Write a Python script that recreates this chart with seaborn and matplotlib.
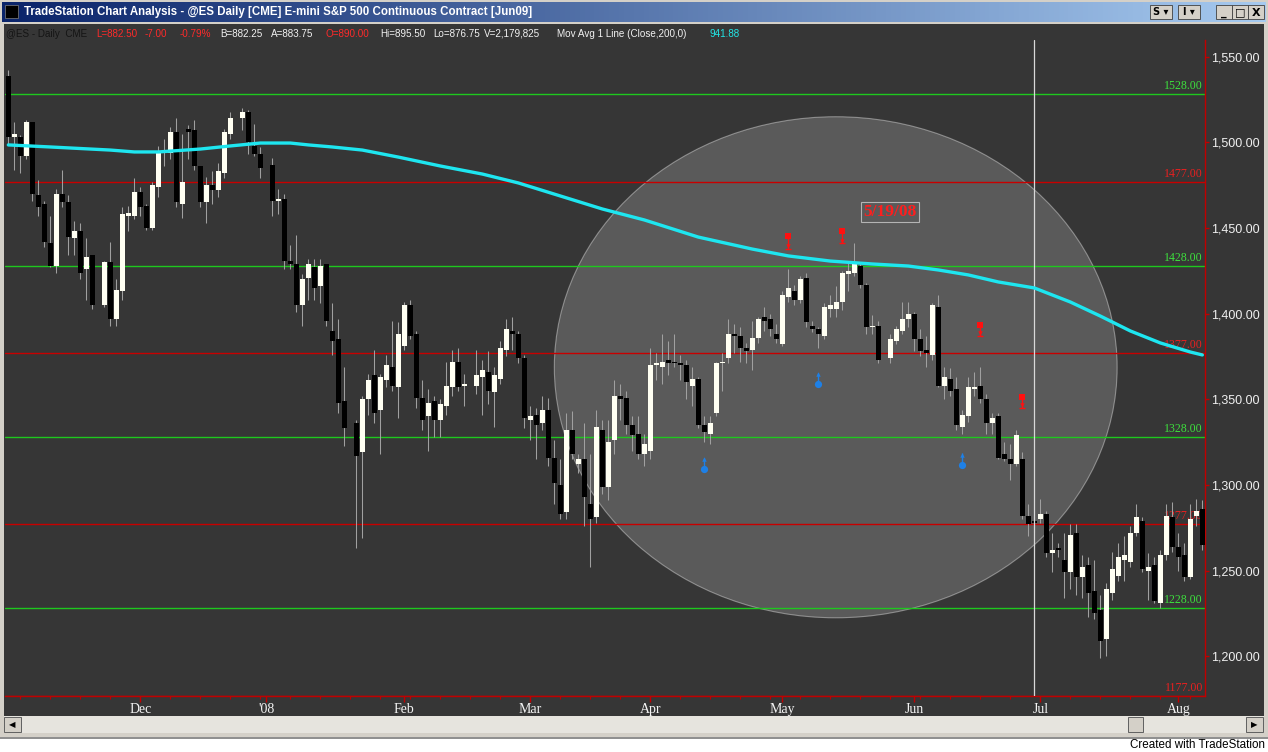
import numpy as np
import pandas as pd
import matplotlib
matplotlib.use("Agg")
import matplotlib.pyplot as plt
import seaborn as sns
from matplotlib.patches import Rectangle, Ellipse
from matplotlib.colors import LinearSegmentedColormap

sns.set_style("dark")
plt.rcParams['font.family'] = ['Liberation Sans', 'DejaVu Sans']

# ---------------- data ----------------
N = None
opens = [1539, 1503, 1503, 1492, 1512, 1469, 1464, 1441, 1428, 1470,
         1465, 1444, 1448, 1426, 1434, N, 1405, 1430, 1397, 1413,
         1457, 1457, 1471, 1463, 1450, 1474, 1494, 1494, 1506, 1464,
         1508, 1507, 1486, 1465, 1475, 1472, 1482, 1505, N, 1514,
         1518, 1498, 1493, N, 1487, 1466, 1467, 1431, 1429, 1405,
         1421, 1427, 1416, 1429, 1390, 1385, 1349, N, 1336, 1319,
         1350, 1364, 1344, 1361, 1369, 1357, 1381, 1405, 1388, 1351,
         1340, 1349, 1338, 1346, 1357, 1372, 1358, N, 1358, 1363,
         1366, 1354, 1362, 1379, 1390, 1388, 1374, 1338, 1341, 1336,
         1344, 1316, 1300, 1284, 1332, 1312, 1315, 1289, 1281, 1332,
         1299, 1326, 1352, 1351, 1335, 1330, 1318, 1320, 1370, 1369,
         1373, 1372, 1371, 1370, 1358, 1362, 1335, 1330, 1342, 1371,
         1374, 1388, 1387, 1380, 1379, 1386, 1398, 1397, 1388, 1382,
         1410, 1413, 1408, 1421, 1393, 1391, 1387, 1403, 1403, 1407,
         1423, 1424, 1428, 1417, 1392, 1393, N, 1374, 1384, 1390,
         1397, 1400, 1385, 1378.5, 1376, 1404, 1358, 1362, 1356, 1334,
         1340, 1356, 1358, 1350, 1336, 1340, 1318, 1315, 1312, 1315,
         1282, 1279, 1280, 1283, 1260, 1263, 1256, 1249, 1272, 1246,
         1253, 1238, 1227, 1210, 1237, 1247, 1256, 1255, 1272, 1279,
         1250, 1253, 1231, 1259, 1281, 1264, 1259, 1246, 1282, 1286]
highs = [1542, 1512, 1504, 1513, 1512, 1478, 1466, 1457, 1473, 1484,
         1469, 1454, 1453, 1444, 1434, N, 1431, 1442, 1420, 1462,
         1463, 1479, 1474, 1464, 1477, 1498, 1502, 1509, 1514, 1505,
         1510, 1513, 1486, 1480, 1483, 1488, 1508, 1518, N, 1520,
         1519, 1511, 1497, N, 1491, 1473, 1470, 1440, 1446, 1423,
         1432, 1432, 1432, 1429, 1406, 1397, 1369, N, 1338, 1352,
         1365, 1379, 1365, 1376, 1396, 1395, 1407, 1408, 1390, 1361,
         1356, 1352, 1350, 1372, 1379, 1380, 1365, N, 1379, 1373,
         1378, 1369, 1384, 1397, 1398, 1390, 1376, 1346, 1345, 1352,
         1351, 1326, 1315, 1342, 1343, 1318, 1336, 1318, 1344, 1338,
         1338, 1361, 1359, 1355, 1340, 1340, 1330, 1380, 1377, 1388,
         1384, 1388, 1376, 1373, 1369, 1363, 1340, 1340, 1372, 1377,
         1397, 1394, 1392, 1383, 1396, 1398, 1404, 1400, 1394, 1413,
         1426, 1417, 1422, 1424, 1396, 1392, 1406, 1411, 1416, 1425,
         1430, 1441, 1430, 1418, 1399, 1396, N, 1388, 1393, 1407,
         1407, 1401, 1391, 1387, 1406, 1411, 1369, 1368, 1363, 1344,
         1363, 1366, 1369, 1353, 1342, 1342, 1325, 1324, 1332, 1319,
         1289, 1282, 1292, 1285, 1272, 1266, 1272, 1277, 1277, 1259,
         1258, 1256, 1236, 1243, 1261, 1266, 1270, 1276, 1289, 1281,
         1260, 1258, 1262, 1289, 1290, 1272, 1266, 1289, 1292, 1291]
lows = [1499, 1484, 1482, 1490, 1466, 1457, 1439, 1427, 1424, 1462,
        1434, 1434, 1420, 1408, 1403, N, 1404, 1393, 1393, 1408,
        1448, 1455, 1457, 1449, 1449, 1468, 1486, 1490, 1462, 1456,
        1490, 1484, 1462, 1453, 1464, 1468, 1479, 1502, N, 1507,
        1493, 1492, 1479, N, 1457, 1458, 1426, 1426, 1401, 1393,
        1408, 1408, 1406, 1393, 1376, 1342, 1323, N, 1263, 1269,
        1341, 1336, 1318, 1357, 1355, 1339, 1379, 1385, 1345, 1332,
        1320, 1328, 1328, 1341, 1352, 1355, 1346, N, 1353, 1341,
        1347, 1334, 1359, 1375, 1379, 1371, 1333, 1326, 1315, 1332,
        1311, 1289, 1280, 1280, 1315, 1307, 1276, 1252, 1278, 1295,
        1291, 1318, 1338, 1330, 1320, 1315, 1311, 1315, 1361, 1359,
        1364, 1369, 1361, 1350, 1346, 1333, 1325, 1324, 1340, 1355,
        1371, 1377, 1372, 1371, 1367, 1383, 1390, 1387, 1383, 1381,
        1407, 1405, 1406, 1392, 1389, 1380, 1385, 1398, 1398, 1402,
        1413, 1422, 1415, 1388, 1388, 1371, N, 1371, 1382, 1388,
        1392, 1378, 1375, 1369, 1373, 1357, 1350, 1352, 1332, 1330,
        1337, 1352, 1348, 1330, 1330, 1315, 1314, 1303, 1311, 1280,
        1270, 1272, 1278, 1258, 1249, 1258, 1234, 1239, 1236, 1234,
        1223, 1222, 1199, 1200, 1233, 1244, 1244, 1252, 1270, 1249,
        1233, 1231, 1228, 1256, 1261, 1250, 1244, 1245, 1276, 1262]
closes = [1503, 1505, 1492, 1512, 1470, 1462, 1442, 1428, 1470, 1465,
          1445, 1448, 1424, 1433, 1405, N, 1430, 1397, 1414, 1458,
          1459, 1471, 1462, 1450, 1475, 1494, 1495, 1506, 1465, 1477,
          1506, 1486, 1465, 1475, 1472, 1483, 1506, 1514, N, 1518,
          1500, 1493, 1485, N, 1466, 1467, 1431, 1429, 1405, 1420,
          1429, 1415, 1428, 1396, 1384, 1348, 1333, N, 1317, 1350,
          1361, 1342, 1363, 1370, 1358, 1388, 1405, 1387, 1351, 1338,
          1348, 1338, 1347, 1358, 1372, 1357, 1359, N, 1364, 1367,
          1355, 1364, 1380, 1391, 1388, 1374, 1339, 1340, 1335, 1344,
          1316, 1301, 1283, 1332, 1318, 1315, 1293, 1280, 1334, 1299,
          1325, 1352, 1350, 1335, 1329, 1318, 1324, 1370, 1371, 1372,
          1371, 1371, 1370, 1360, 1362, 1335, 1331, 1336, 1371, 1372,
          1388, 1387, 1380, 1378, 1386, 1397, 1396, 1391, 1385, 1411,
          1415, 1408, 1420, 1395, 1391, 1388, 1404, 1405, 1407, 1424,
          1425, 1429, 1417, 1392, 1393, 1373, N, 1385, 1391, 1397,
          1400, 1385, 1378, 1377, 1405, 1358, 1363, 1355, 1335, 1341,
          1357, 1357, 1350, 1336, 1339, 1316, 1315, 1312, 1329, 1282,
          1277, 1278, 1283, 1260, 1262, 1262, 1249, 1271, 1246, 1252,
          1237, 1225, 1209, 1239, 1251, 1258, 1259, 1272, 1281, 1251,
          1252, 1232, 1259, 1282, 1264, 1258, 1246, 1280, 1285, 1265]

ma_idx = [0, 7, 17, 21, 25, 32, 37, 42, 47, 50, 54, 59, 65, 72, 79, 85, 92,
          99, 106, 115, 124, 130, 137, 144, 150, 155, 160, 165, 171, 177,
          182, 187, 192, 197, 199]
ma_vals = [1498.5, 1497.3, 1495.5, 1494.4, 1494.4, 1496.1, 1497.9, 1499.6,
           1499.6, 1498.5, 1497.3, 1495.5, 1491.4, 1486.2, 1481.5, 1476.3,
           1468.7, 1461.1, 1454.7, 1444.7, 1437.7, 1433.7, 1430.7, 1429.0,
           1427.8, 1425.5, 1422.6, 1418.5, 1415.0, 1406.8, 1398.6, 1389.9,
           1382.9, 1377.6, 1375.9]

green_levels = [1528, 1428, 1328, 1228]
red_levels = [1477, 1377, 1277, 1177]

month_labels = ["Dec", "'08", "Feb", "Mar", "Apr", "May", "Jun", "Jul", "Aug"]
month_idx = [22, 43, 66, 87, 107, 129, 151, 172, 195]
price_ticks = [1200, 1250, 1300, 1350, 1400, 1450, 1500, 1550]

sell_idx = [130, 139, 162, 169]
sell_top = [1445.5, 1448.5, 1393.5, 1351.5]
sell_bottom = [1438, 1441, 1387, 1345]
buy_idx = [116, 135, 159]
buy_base = [1309.5, 1359, 1311.5]
buy_top = [1316, 1365.5, 1318.5]

marked_bar = 171
note_idx, note_price, note_text = 146.9, 1459.3, "5/19/08"
circle_center = (137.9, 1368.7)
circle_size = (93.8, 292.5)

title = "TradeStation Chart Analysis - @ES Daily [CME] E-mini S&P 500 Continuous Contract [Jun09]"
RED_T, WHITE_T, CYAN_T, DARK_T = '#ff2a2a', '#f2f2f2', '#22e6e6', '#141414'
info_parts = [("@ES - Daily  CME", 6, DARK_T), ("L=882.50", 96, RED_T),
              ("-7.00", 145, RED_T), ("-0.79%", 180, RED_T),
              ("B=882.25", 220, WHITE_T), ("A=883.75", 271, WHITE_T),
              ("O=890.00", 326, RED_T), ("Hi=895.50", 380, WHITE_T),
              ("Lo=876.75", 433, WHITE_T), ("V=2,179,825", 484, WHITE_T),
              ("Mov Avg 1 Line (Close,200,0)", 557, WHITE_T),
              ("941.88", 710, CYAN_T)]

# ---------------- figure ----------------
W, H = 1268, 752
fig = plt.figure(figsize=(W / 100, H / 100), dpi=100)
fig.patch.set_facecolor('white')


def rect(x0, y0, x1, y1, z=-5, **kw):
    fig.patches.append(Rectangle((x0 / W, 1 - y1 / H), (x1 - x0) / W, (y1 - y0) / H,
                                 transform=fig.transFigure, figure=fig, zorder=z, **kw))


def ftext(x, y, s, z=6, **kw):
    fig.text(x / W, 1 - y / H, s, zorder=z, **kw)


BG = '#363636'
# window frame (behind everything)
rect(0, 0, W, 739, facecolor='#d4d0c8', edgecolor='none', z=-10)
rect(0, 737, W, 739, facecolor='#909090', edgecolor='none', z=-9)
rect(4, 24, 1264, 716, facecolor=BG, edgecolor='none', z=-8)

# title bar gradient
ax_t = fig.add_axes([2 / W, 1 - 22 / H, 1264 / W, 20 / H])
cmap = LinearSegmentedColormap.from_list('tb', ['#0a246a', '#a6caf0'])
ax_t.imshow(np.linspace(0, 1, 256)[None, :], aspect='auto', cmap=cmap, extent=[0, 1, 0, 1])
ax_t.set_axis_off()
rect(5, 5, 18, 18, z=5, facecolor='black', edgecolor='#808080', lw=0.5)
ftext(24, 12, title, color='white', fontsize=8.3, fontweight='bold', va='center', ha='left')
for (x0, x1, lab) in [(1150, 1172, "S ▾"), (1178, 1200, "I ▾")]:
    rect(x0, 5, x1, 19, z=5, facecolor='#d4d0c8', edgecolor='#404040', lw=0.6)
    ftext((x0 + x1) / 2, 12, lab, color='black', fontsize=7, fontweight='bold', ha='center', va='center',
          family=['DejaVu Sans'])
for (x0, x1, lab) in [(1216, 1232, "_"), (1232, 1248, "□"), (1248, 1264, "X")]:
    rect(x0, 5, x1, 19, z=5, facecolor='#d4d0c8', edgecolor='#404040', lw=0.6)
    ftext((x0 + x1) / 2, 12.5, lab, color='black', fontsize=8, fontweight='bold', ha='center', va='center',
          family=['DejaVu Sans'])

# info line
for s, x, c in info_parts:
    ftext(x, 37, s, color=c, fontsize=7.1, ha='left', va='baseline')

# scrollbar
rect(4, 716, 1264, 733, z=-7, facecolor='#e6e4de', edgecolor='none')
for (x0, x1, glyph) in [(4, 21, "◀"), (1246, 1263, "▶")]:
    rect(x0, 717, x1, 732, z=2, facecolor='#d4d0c8', edgecolor='#606060', lw=0.7)
    ftext((x0 + x1) / 2, 724.5, glyph, color='black', fontsize=6, ha='center', va='center',
          family=['DejaVu Sans'])
rect(1128, 717, 1143, 732, z=2, facecolor='#d4d0c8', edgecolor='#606060', lw=0.7)
ftext(1265, 745, "Created with TradeStation", color='black', fontsize=8.4, ha='right', va='center')

# ---------------- main chart axes ----------------
Y1550, PXPT = 56.7, 1.713
X0, PXBAR = 8.33, 6.0


def price_at(y):
    return 1550 - (y - Y1550) / PXPT


def idx_at(x):
    return (x - X0) / PXBAR


ax = fig.add_axes([5 / W, 1 - 696 / H, 1200 / W, 656 / H])
ax.set_facecolor(BG)
ax.patch.set_alpha(0.0)
ax.set_xlim(idx_at(5), idx_at(1205))
ax.set_ylim(price_at(696), price_at(40))
ax.grid(False)

# highlight ellipse
ax.add_patch(Ellipse(circle_center, circle_size[0], circle_size[1],
                     facecolor=(1, 1, 1, 0.18), edgecolor=(1, 1, 1, 0.38), lw=0.8, zorder=1))

# level lines & labels
for lv in green_levels:
    ax.axhline(lv, color='#1ec81e', lw=1.0, zorder=2)
    ax.text(idx_at(1203), lv + 1.2, f"{lv:.2f}", color='#3de03d', fontsize=8.6,
            family='Liberation Serif', ha='right', va='bottom', zorder=2.5)
for lv in red_levels:
    ax.axhline(lv, color='#c80000', lw=1.0, zorder=2)
    ax.text(idx_at(1203), lv + 1.2, f"{lv:.2f}", color='#e82020', fontsize=8.6,
            family='Liberation Serif', ha='right', va='bottom', zorder=2.5)

# candles
o = np.array([np.nan if v is None else v for v in opens], float)
h = np.array([np.nan if v is None else v for v in highs], float)
l = np.array([np.nan if v is None else v for v in lows], float)
c = np.array([np.nan if v is None else v for v in closes], float)
idx = np.arange(len(o))
valid = ~np.isnan(o)
ax.vlines(idx[valid], l[valid], h[valid], color='#a0a0a0', lw=0.75, zorder=3)
up = valid & (c >= o)
dn = valid & (c < o)
ax.bar(idx[up], np.maximum(c[up] - o[up], 0.8), bottom=o[up], width=0.82,
       color='#fffff2', linewidth=0, zorder=4)
ax.bar(idx[dn], np.maximum(o[dn] - c[dn], 0.8), bottom=c[dn], width=0.82,
       color='#000000', linewidth=0, zorder=4)

# vertical marker line
ax.axvline(marked_bar, color='#d8d8d8', lw=0.9, zorder=4.5)

# moving average (seaborn)
ma_df = pd.DataFrame({"bar": ma_idx, "ma": ma_vals})
sns.lineplot(data=ma_df, x="bar", y="ma", ax=ax, color='#1ee6f0', lw=2.4,
             estimator=None, sort=False, zorder=6)

# signal markers
for i, t, b in zip(sell_idx, sell_top, sell_bottom):
    ax.vlines(i, b, t, color='#ff1010', lw=1.0, zorder=7)
    ax.plot([i], [t], marker='s', ms=4.8, color='#ff1010', mew=0, zorder=7)
    ax.plot([i], [b + 1.6], marker='v', ms=3.2, color='#ff1010', mew=0, zorder=7)
    ax.plot([i], [b], marker='_', ms=4, color='#ff1010', mew=1, zorder=7)
for i, base, t in zip(buy_idx, buy_base, buy_top):
    ax.vlines(i, base, t, color='#1e80e6', lw=1.0, zorder=7)
    ax.plot([i], [base], marker='o', ms=5.2, color='#1e80e6', mew=0, zorder=7)
    ax.plot([i], [t - 1.0], marker='^', ms=3.2, color='#1e80e6', mew=0, zorder=7)

# date note
ax.text(note_idx, note_price, note_text, color='#ff1e1e', fontsize=12.5, fontweight='bold',
        family='Liberation Serif', ha='center', va='center', zorder=8,
        bbox=dict(boxstyle='square,pad=0.12', fc='none', ec='#b4b4b4', lw=0.8))

# axes styling
for side in ['left', 'top']:
    ax.spines[side].set_visible(False)
for side in ['right', 'bottom']:
    ax.spines[side].set_visible(True)
    ax.spines[side].set_color('#c00000')
    ax.spines[side].set_linewidth(1.0)
ax.yaxis.tick_right()
ax.set_yticks(price_ticks)
ax.set_yticklabels([f"{v:,.2f}" for v in price_ticks])
ax.tick_params(axis='y', which='major', right=True, left=False, color='#c00000', labelcolor='#f0f0f0',
               length=3, width=1, pad=1.2, labelsize=9)
ax.set_xticks(month_idx)
ax.set_xticklabels(month_labels, family='Liberation Serif', fontsize=10)
ax.set_xticks(np.arange(2, 200, 5), minor=True)
ax.tick_params(axis='x', which='major', bottom=True, color='#c00000', labelcolor='#f4f4f4',
               length=4, width=1, pad=1)
ax.tick_params(axis='x', which='minor', bottom=True, color='#c00000', length=2.5, width=0.8)
ax.set_xlabel("")
ax.set_ylabel("")

fig.savefig("out.png", dpi=100, facecolor=fig.get_facecolor())
